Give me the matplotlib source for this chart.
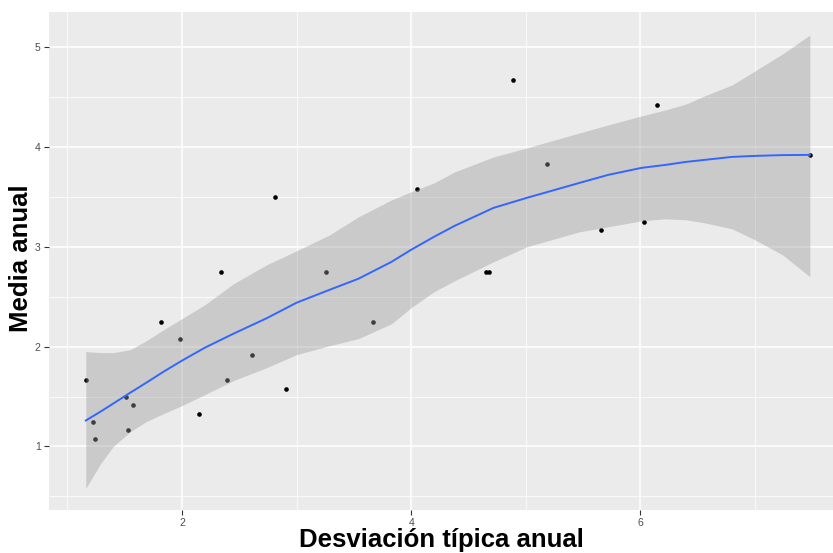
import matplotlib
matplotlib.use("Agg")
import matplotlib.pyplot as plt
from matplotlib.ticker import FixedLocator

# ---------------------------------------------------------------------------
# Data
# ---------------------------------------------------------------------------
desv = [1.16, 1.22, 1.24, 1.51, 1.57, 1.53, 1.82, 1.98, 2.15, 2.34, 2.39,
        2.61, 2.81, 2.91, 3.26, 3.67, 4.05, 4.65, 4.68, 4.89, 5.19, 5.66,
        6.03, 6.15, 7.48]
media = [1.67, 1.25, 1.08, 1.50, 1.42, 1.17, 2.25, 2.08, 1.33, 2.75, 1.67,
         1.92, 3.50, 1.58, 2.75, 2.25, 3.58, 2.75, 2.75, 4.67, 3.83, 3.17,
         3.25, 4.42, 3.92]

# smoothed fit and its confidence band
smooth_x = [1.16, 1.29, 1.40, 1.55, 1.69, 1.84, 2.00, 2.20, 2.45, 2.74,
            3.00, 3.29, 3.54, 3.83, 4.00, 4.20, 4.38, 4.72, 5.01, 5.47,
            5.72, 6.01, 6.22, 6.40, 6.56, 6.80, 7.00, 7.24, 7.48]
smooth_y = [1.26, 1.35, 1.43, 1.54, 1.64, 1.75, 1.86, 1.99, 2.13, 2.285,
            2.44, 2.57, 2.68, 2.85, 2.97, 3.10, 3.21, 3.39, 3.49, 3.64,
            3.72, 3.79, 3.82, 3.85, 3.87, 3.90, 3.91, 3.918, 3.92]
band_hi = [1.95, 1.94, 1.94, 1.97, 2.06, 2.17, 2.28, 2.42, 2.63, 2.82,
           2.96, 3.12, 3.30, 3.47, 3.55, 3.64, 3.75, 3.90, 3.99, 4.14,
           4.22, 4.31, 4.37, 4.43, 4.51, 4.62, 4.76, 4.93, 5.12]
band_lo = [0.58, 0.83, 1.00, 1.15, 1.25, 1.33, 1.41, 1.52, 1.66, 1.79,
           1.92, 2.01, 2.08, 2.23, 2.39, 2.55, 2.66, 2.85, 3.00, 3.15,
           3.20, 3.26, 3.28, 3.27, 3.24, 3.18, 3.07, 2.92, 2.70]

x_ticks = [2, 4, 6]
y_ticks = [1, 2, 3, 4, 5]

# ---------------------------------------------------------------------------
# Plot (ggplot2 grey theme look)
# ---------------------------------------------------------------------------
plt.rcParams["font.family"] = ["Liberation Sans", "DejaVu Sans"]

fig = plt.figure(figsize=(8.33, 5.53), dpi=100)
ax = fig.add_axes([49 / 833, 1 - 510 / 553, 1 - 49 / 833, (510 - 12) / 553])
ax.set_facecolor("#EBEBEB")
for sp in ax.spines.values():
    sp.set_visible(False)

ax.set_xlim(0.839, 7.682)
ax.set_ylim(0.364, 5.351)

ax.xaxis.set_major_locator(FixedLocator(x_ticks))
ax.yaxis.set_major_locator(FixedLocator(y_ticks))
ax.xaxis.set_minor_locator(FixedLocator([1, 3, 5, 7]))
ax.yaxis.set_minor_locator(FixedLocator([0.5, 1.5, 2.5, 3.5, 4.5]))
ax.grid(which="major", color="white", linewidth=1.1)
ax.grid(which="minor", color="white", linewidth=0.55)
ax.set_axisbelow(True)

ax.tick_params(which="major", length=3.5, width=0.8, color="#333333",
               labelsize=7.5, labelcolor="#4D4D4D", pad=2.5)
ax.tick_params(which="minor", length=0)

ax.scatter(desv, media, s=11, color="black", linewidths=0, zorder=2)
ax.fill_between(smooth_x, band_lo, band_hi, color="#999999", alpha=0.4,
                linewidth=0, zorder=3)
ax.plot(smooth_x, smooth_y, color="#3366FF", linewidth=1.4, zorder=4)

ax.set_xlabel("Desviación típica anual", fontsize=18.5, fontweight="bold",
              labelpad=0)
ax.set_ylabel("Media anual", fontsize=18.5, fontweight="bold")
ax.yaxis.set_label_coords(-0.02, 0.506)

fig.savefig("out.png", dpi=100)
